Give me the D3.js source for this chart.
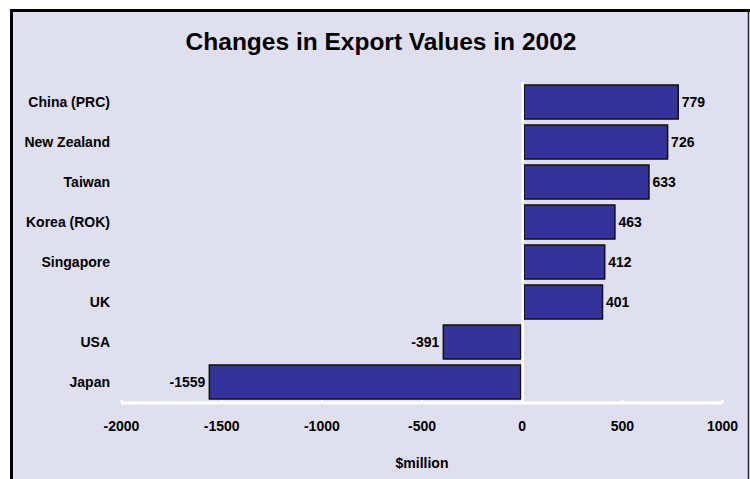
<!DOCTYPE html>
<html>
<head>
<meta charset="utf-8">
<script src="https://cdn.jsdelivr.net/npm/d3@7"></script>
<style>
  body { margin: 0; background: #fff; }
  text { font-family: "Liberation Sans", Arial, sans-serif; font-weight: bold; fill: #000; }
</style>
</head>
<body>
<script>
// data
var countries = ["China (PRC)", "New Zealand", "Taiwan", "Korea (ROK)", "Singapore", "UK", "USA", "Japan"];
var changes = [779, 726, 633, 463, 412, 401, -391, -1559];
var xTicks = [-2000, -1500, -1000, -500, 0, 500, 1000];

var W = 750, H = 479;

var svg = d3.select("body").append("svg")
    .attr("width", W)
    .attr("height", H);

// panel background + frame
svg.append("rect")
    .attr("x", 11).attr("y", 10)
    .attr("width", 738).attr("height", H)
    .style("fill", "#dfdfef");
svg.append("line")
    .attr("x1", 11.5).attr("x2", 11.5).attr("y1", 9).attr("y2", H)
    .style("stroke", "#000").style("stroke-width", 3);
svg.append("line")
    .attr("x1", 10).attr("x2", 750).attr("y1", 10.5).attr("y2", 10.5)
    .style("stroke", "#000").style("stroke-width", 3);
svg.append("line")
    .attr("x1", 748.5).attr("x2", 748.5).attr("y1", 9).attr("y2", H)
    .style("stroke", "#222").style("stroke-width", 1.5);

var x = d3.scaleLinear()
    .domain([-2000, 1000])
    .range([121, 722]);

var y = d3.scaleBand()
    .domain(countries)
    .range([82, 402])
    .paddingInner(0.15)
    .paddingOuter(0.075);

// title
svg.append("text")
    .attr("x", 381).attr("y", 50)
    .attr("text-anchor", "middle")
    .style("font-size", "24.5px")
    .text("Changes in Export Values in 2002");

// bars
var rows = countries.map(function(c, i) { return {name: c, value: changes[i]}; });

svg.selectAll(".bar")
    .data(rows)
    .enter().append("rect")
        .attr("class", "bar")
        .attr("x", d => d.value >= 0 ? x(0) + 2.5 : x(d.value))
        .attr("y", d => y(d.name))
        .attr("width", d => Math.abs(x(d.value) - x(0)) - (d.value >= 0 ? 2 : 1))
        .attr("height", y.bandwidth())
        .style("fill", "#333399")
        .style("stroke", "#111")
        .style("stroke-width", 1.5);

// value labels
svg.selectAll(".val")
    .data(rows)
    .enter().append("text")
        .attr("class", "val")
        .attr("x", d => d.value >= 0 ? x(d.value) + 4 : x(d.value) - 4)
        .attr("y", d => y(d.name) + y.bandwidth() / 2)
        .attr("dy", "0.36em")
        .attr("text-anchor", d => d.value >= 0 ? "start" : "end")
        .style("font-size", "14px")
        .text(d => d.value);

// category labels
svg.selectAll(".cat")
    .data(countries)
    .enter().append("text")
        .attr("class", "cat")
        .attr("x", 110)
        .attr("y", d => y(d) + y.bandwidth() / 2)
        .attr("dy", "0.36em")
        .attr("text-anchor", "end")
        .style("font-size", "14px")
        .text(d => d);

// zero line
svg.append("line")
    .attr("x1", x(0) + 1).attr("x2", x(0) + 1)
    .attr("y1", 82).attr("y2", 404)
    .style("stroke", "#fff").style("stroke-width", 2.5);

// x axis
var axis = svg.append("g")
    .attr("transform", "translate(0,403)")
    .call(d3.axisBottom(x).tickValues(xTicks).tickSize(-3).tickPadding(18)
        .tickFormat(d => String(d)));
axis.select(".domain").style("stroke", "#fff").style("stroke-width", 3)
    .attr("d", "M" + x(-2000) + ",0H" + x(1000));
axis.selectAll(".tick line").style("stroke", "#fff").style("stroke-width", 2);
axis.selectAll(".tick text")
    .style("font-size", "14px")
    .style("font-family", "'Liberation Sans', Arial, sans-serif")
    .style("font-weight", "bold")
    .style("fill", "#000");

// axis title
svg.append("text")
    .attr("x", 422).attr("y", 468)
    .attr("text-anchor", "middle")
    .style("font-size", "14px")
    .text("$million");
</script>
</body>
</html>
